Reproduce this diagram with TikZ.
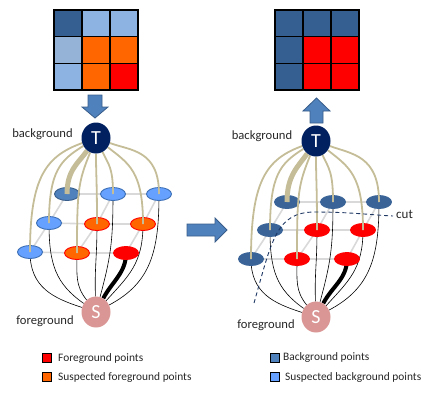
\documentclass[tikz,border=0pt]{standalone}
\usepackage{fontspec}
\setmainfont{Carlito}
\usetikzlibrary{shapes.geometric}
\definecolor{darkcell}{HTML}{365F91}
\definecolor{lightcell}{HTML}{8DB3E2}
\definecolor{greycell}{HTML}{95B3D7}
\definecolor{orangec}{HTML}{FF6600}
\definecolor{redc}{HTML}{FF0000}
\definecolor{beige}{HTML}{C4BD97}
\definecolor{gridgray}{HTML}{D9D9D9}
\definecolor{lbluefill}{HTML}{66A1FF}
\definecolor{lblueline}{HTML}{3C6EB4}
\definecolor{midblue}{HTML}{4F81BD}
\definecolor{midblueline}{HTML}{385D8A}
\definecolor{darknode}{HTML}{3A6497}
\definecolor{navy}{HTML}{002060}
\definecolor{pinkS}{HTML}{D99694}
\definecolor{txt}{HTML}{262626}
\definecolor{cutc}{HTML}{1F3864}
\pgfdeclarelayer{bg}
\pgfdeclarelayer{mid}
\pgfdeclarelayer{top}
\pgfsetlayers{bg,mid,main,top}
\begin{document}
\begin{tikzpicture}[x=1pt,y=-1pt,
  gridl/.style={draw=gridgray,line width=1.6pt},
  tl/.style={draw=beige,line width=1.8pt},
  tlthick/.style={draw=beige,line width=5pt},
  sl/.style={draw=black,line width=0.6pt},
  slthick/.style={draw=black,line width=4pt},
  pt/.style={ellipse,minimum width=25pt,minimum height=13pt,inner sep=0pt,line width=0.9pt},
  lb/.style={pt,fill=lbluefill,draw=lblueline},
  mb/.style={pt,fill=midblue,draw=midblueline},
  db/.style={pt,fill=darknode,draw=darknode},
  orn/.style={pt,fill=orangec,draw=redc},
  rdn/.style={pt,fill=redc,draw=redc},
  term/.style={ellipse,minimum width=29pt,minimum height=31pt,inner sep=0pt,text=white,font=\fontsize{20}{20}\selectfont},
  lab/.style={text=txt,font=\fontsize{12.6}{14}\selectfont,inner sep=0pt},
  leg/.style={text=txt,font=\fontsize{11.4}{13}\selectfont,inner sep=0pt,anchor=west},
  legbox/.style={draw=black,line width=1.2pt,minimum size=9pt,inner sep=0pt},
  blockarrow/.style={fill=midblue,draw=midblueline,line width=0.8pt},
  cell/.style={line width=1.3pt}
]
\useasboundingbox (0,0) rectangle (430,400);

% ---------- pixel grids ----------
\begin{scope}[shift={(54,10)}]
  \fill[darkcell] (0,0) rectangle (28,26.7);
  \fill[lightcell] (28,0) rectangle (56,26.7);
  \fill[lightcell] (56,0) rectangle (84,26.7);
  \fill[greycell] (0,26.7) rectangle (28,53.3);
  \fill[orangec] (28,26.7) rectangle (56,53.3);
  \fill[orangec] (56,26.7) rectangle (84,53.3);
  \fill[lightcell] (0,53.3) rectangle (28,80);
  \fill[orangec] (28,53.3) rectangle (56,80);
  \fill[redc] (56,53.3) rectangle (84,80);
  \draw[cell] (0,0) rectangle (84,80);
  \draw[cell] (28,0) -- (28,80) (56,0) -- (56,80) (0,26.7) -- (84,26.7) (0,53.3) -- (84,53.3);
\end{scope}
\begin{scope}[shift={(275,10)}]
  \fill[darkcell] (0,0) rectangle (84,26.7);
  \fill[darkcell] (0,26.7) rectangle (28,80);
  \fill[redc] (28,26.7) rectangle (84,80);
  \draw[cell] (0,0) rectangle (84,80);
  \draw[cell] (28,0) -- (28,80) (56,0) -- (56,80) (0,26.7) -- (84,26.7) (0,53.3) -- (84,53.3);
\end{scope}

% ---------- block arrows ----------
\draw[blockarrow] (88,95) -- (102,95) -- (102,107) -- (108,107) -- (95,118) -- (82,107) -- (88,107) -- cycle;
\draw[blockarrow] (303,111) -- (316.5,98) -- (330,111) -- (323,111) -- (323,123) -- (310,123) -- (310,111) -- cycle;
\draw[blockarrow] (187,224) -- (215,224) -- (215,218) -- (227,230) -- (215,242) -- (215,236) -- (187,236) -- cycle;

% ---------- terminals ----------
\begin{pgfonlayer}{top}
  \node[term,fill=navy] (LT) at (96,138) {T};
  \node[term,fill=pinkS] (LS) at (96,312) {S};
  \node[term,fill=navy] (RT) at (316,141) {T};
  \node[term,fill=pinkS] (RS) at (316,317) {S};
\end{pgfonlayer}

% ---------- graph nodes ----------
\begin{pgfonlayer}{mid}
  \node[mb]  (La1) at (67,194) {};
  \node[lb]  (La2) at (113,194) {};
  \node[lb]  (La3) at (159,194) {};
  \node[lb]  (Lb1) at (49,223) {};
  \node[orn] (Lb2) at (97,224) {};
  \node[orn] (Lb3) at (143,224) {};
  \node[lb]  (Lc1) at (30,252) {};
  \node[orn] (Lc2) at (77,253) {};
  \node[rdn] (Lc3) at (126,253) {};
  \node[db]  (Ra1) at (287,202) {};
  \node[db]  (Ra2) at (333,202) {};
  \node[db]  (Ra3) at (379,202) {};
  \node[db]  (Rb1) at (270,230) {};
  \node[rdn] (Rb2) at (317,230) {};
  \node[rdn] (Rb3) at (363,230) {};
  \node[db]  (Rc1) at (251,259) {};
  \node[rdn] (Rc2) at (297,259) {};
  \node[rdn] (Rc3) at (347,259) {};
\end{pgfonlayer}

% ---------- grid lines and S links ----------
\begin{pgfonlayer}{bg}
  \foreach \G in {L,R}{
    \draw[gridl] (\G a1.center) -- (\G a2.center) -- (\G a3.center);
    \draw[gridl] (\G b1.center) -- (\G b2.center) -- (\G b3.center);
    \draw[gridl] (\G c1.center) -- (\G c2.center) -- (\G c3.center);
    \draw[gridl] (\G a1.center) -- (\G b1.center) -- (\G c1.center);
    \draw[gridl] (\G a2.center) -- (\G b2.center) -- (\G c2.center);
    \draw[gridl] (\G a3.center) -- (\G b3.center) -- (\G c3.center);
    \foreach \n/\i in {c1/162,b1/145,c2/128,b2/92,a2/75,b3/48,a3/28}{
      \draw[sl] (\G\n.center) to[out=270,in=\i,out looseness=1.2] (\G S);
    }
    \draw[slthick] (\G c3.center) to[out=270,in=62] (\G S);
  }
\end{pgfonlayer}

% ---------- T links ----------
\foreach \G in {L,R}{
  \foreach \n/\o in {c1/200,b1/212,c2/248,b2/270,a2/295,b3/322,a3/340}{
    \draw[tl] (\G T) to[out=\o,in=90,out looseness=0.8,in looseness=1.6] (\G\n.center);
  }
  \draw[tlthick] (\G T) to[out=235,in=90,out looseness=0.8,in looseness=1.3] (\G a1.center);
}

% ---------- cut ----------
\coordinate (cutA) at (254,303);
\coordinate (cutB) at (393,216);
\draw[cutc,dashed,line width=0.9pt,dash pattern=on 4pt off 3pt] (cutA) .. controls (272,240) and (276,212) .. (315,212) .. controls (350,212) and (372,215) .. (cutB);
\node[text=txt,font=\fontsize{13}{15}\selectfont,inner sep=0pt,anchor=west] (cutlab) at (396,214) {cut};

% ---------- labels ----------
\node[lab] (lbgL) at (42.5,134) {background};
\node[lab] (lbgR) at (262,136) {background};
\node[lab] (lfgL) at (45,321) {foreground};
\node[lab] (lfgR) at (266,325) {foreground};

% ---------- legend ----------
\node[legbox,fill=redc] (k1) at (47,358) {};
\node[legbox,fill=orangec] (k2) at (47,377) {};
\node[legbox,fill=midblue] (k3) at (275,358) {};
\node[legbox,fill=lbluefill] (k4) at (275,377) {};
\node[leg] (t1) at (58,358.5) {Foreground points};
\node[leg] (t2) at (58,377.5) {Suspected foreground points};
\node[leg] (t3) at (283,358) {Background points};
\node[leg] (t4) at (285,377.5) {Suspected background points};
\end{tikzpicture}
\end{document}
